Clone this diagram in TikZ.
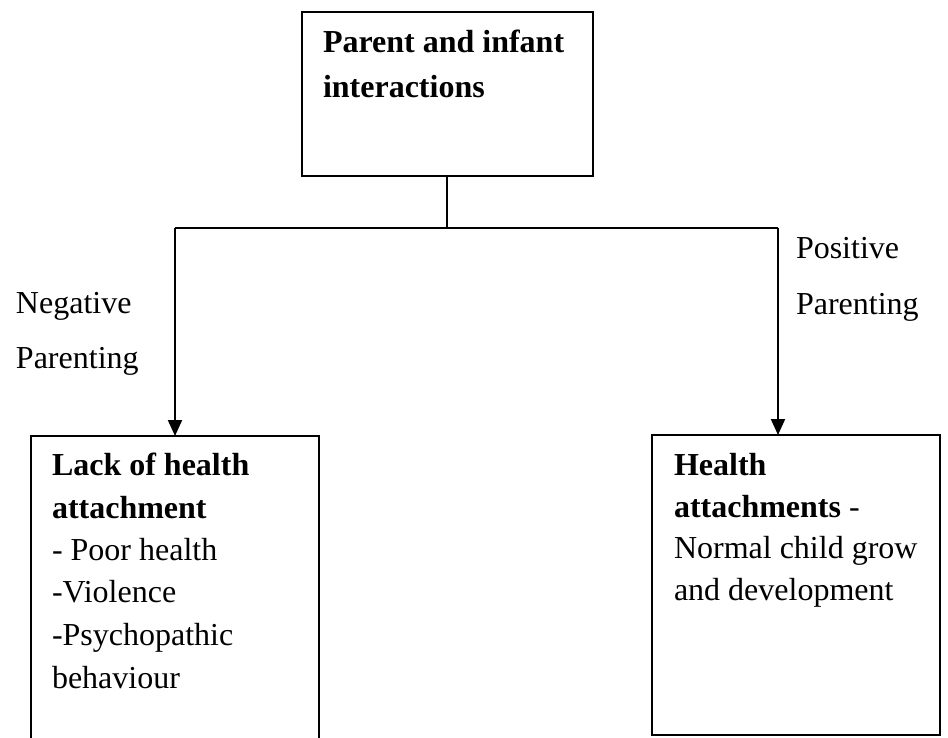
\documentclass[tikz,border=0pt]{standalone}
\usepackage{fontspec}
\setmainfont{Liberation Serif}
\usetikzlibrary{arrows.meta}
\tikzset{
  boxnode/.style={draw, line width=2pt, inner sep=0pt, outer sep=0pt},
  txt/.style={anchor=base west, inner sep=0pt, outer sep=0pt, font=\fontsize{32}{40}\selectfont},
  conn/.style={line width=2pt},
  arr/.style={line width=2pt, -{Triangle[width=14pt,length=16pt]}}
}
\begin{document}
\begin{tikzpicture}[x=1pt,y=-1pt]
\useasboundingbox (0,0) rectangle (948,737);
\clip (0,0) rectangle (948,737);
% boxes
\node[boxnode, minimum width=291pt, minimum height=164pt] (top) at (447.5,94) {};
\node[boxnode, minimum width=288pt, minimum height=340pt] (left) at (175,606) {};
\node[boxnode, minimum width=288pt, minimum height=300pt] (right) at (796,585) {};
% connectors
\coordinate (jc) at (447,228);
\coordinate (jl) at (175,228);
\coordinate (jr) at (778,228);
\draw[conn] (top.south -| jc) -- (jc);
\draw[conn] (jl) -- (jr);
\draw[arr] (jl) -- (left.north -| jl);
\draw[arr] (jr) -- (right.north -| jr);
% top box text
\node[txt] (t1) at (323,52) {\textbf{Parent and infant}};
\node[txt] (t2) at (323,97) {\textbf{interactions}};
% labels
\node[txt] (n1) at (16,313) {Negative};
\node[txt] (n2) at (16,368) {Parenting};
\node[txt] (p1) at (796,258) {Positive};
\node[txt] (p2) at (796,314) {Parenting};
% left box text
\node[txt] (l1) at (52,475) {\textbf{Lack of health}};
\node[txt] (l2) at (52,518) {\textbf{attachment}};
\node[txt] (l3) at (52,560) {- Poor health};
\node[txt] (l4) at (52,602) {-Violence};
\node[txt] (l5) at (52,645) {-Psychopathic};
\node[txt] (l6) at (52,688) {behaviour};
% right box text
\node[txt] (r1) at (674,475) {\textbf{Health}};
\node[txt] (r2) at (674,517) {\textbf{attachments} -};
\node[txt] (r3) at (674,558) {Normal child grow};
\node[txt] (r4) at (674,600) {and development};
\end{tikzpicture}
\end{document}
